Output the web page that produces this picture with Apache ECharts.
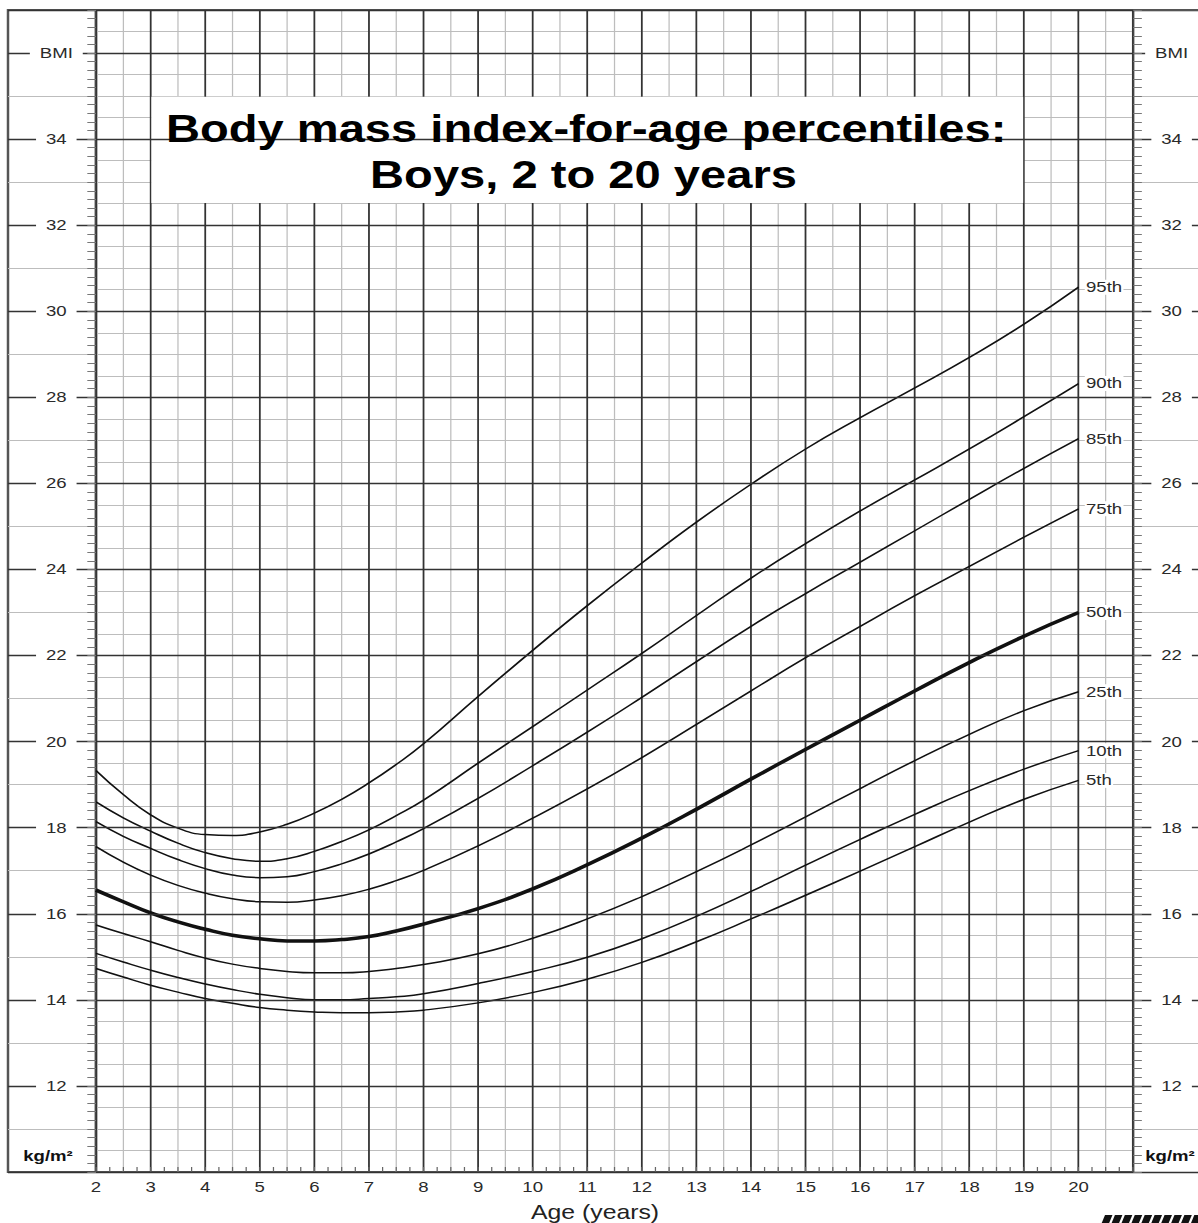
<!DOCTYPE html>
<html>
<head>
<meta charset="utf-8">
<script src="https://cdn.jsdelivr.net/npm/echarts@6/dist/echarts.min.js"></script>
<style>
  html, body { margin: 0; padding: 0; background: #fff; overflow: hidden; }
  #wrap { width: 1198px; height: 1223px; overflow: hidden; }
  #chart { width: 966px; height: 1223px; transform: scaleX(1.2402); transform-origin: 0 0; }
</style>
</head>
<body>
<div id="wrap"><div id="chart"></div></div>
<script>
// ---- data ----
const ages = [2, 2.5, 3, 3.5, 4, 4.5, 5, 5.5, 6, 6.5, 7, 7.5, 8, 9, 10, 11, 12, 13, 14, 15, 16, 17, 18, 19, 20];
const p95 = [19.33, 18.77, 18.30, 17.99, 17.84, 17.82, 17.90, 18.08, 18.34, 18.66, 19.04, 19.47, 19.95, 21.05, 22.12, 23.16, 24.15, 25.10, 25.98, 26.80, 27.53, 28.22, 28.93, 29.70, 30.56];
const p90 = [18.60, 18.23, 17.92, 17.64, 17.42, 17.28, 17.22, 17.28, 17.45, 17.68, 17.95, 18.28, 18.64, 19.50, 20.35, 21.20, 22.05, 22.93, 23.80, 24.60, 25.36, 26.08, 26.80, 27.55, 28.32];
const p85 = [18.14, 17.80, 17.52, 17.26, 17.05, 16.90, 16.84, 16.86, 16.98, 17.16, 17.39, 17.67, 17.98, 18.68, 19.44, 20.22, 21.03, 21.86, 22.68, 23.44, 24.17, 24.90, 25.63, 26.35, 27.04];
const p75 = [17.56, 17.20, 16.90, 16.66, 16.48, 16.35, 16.28, 16.27, 16.32, 16.42, 16.57, 16.77, 17.01, 17.58, 18.22, 18.90, 19.63, 20.40, 21.18, 21.95, 22.68, 23.39, 24.07, 24.75, 25.41];
const p50 = [16.55, 16.28, 16.02, 15.81, 15.64, 15.50, 15.42, 15.37, 15.37, 15.40, 15.47, 15.60, 15.76, 16.12, 16.58, 17.14, 17.76, 18.43, 19.13, 19.82, 20.50, 21.18, 21.84, 22.45, 23.00];
const p25 = [15.74, 15.54, 15.35, 15.15, 14.97, 14.83, 14.73, 14.66, 14.63, 14.63, 14.66, 14.73, 14.82, 15.07, 15.43, 15.88, 16.40, 16.98, 17.60, 18.25, 18.91, 19.56, 20.17, 20.72, 21.16];
const p10 = [15.08, 14.88, 14.69, 14.52, 14.37, 14.24, 14.13, 14.05, 14.00, 14.00, 14.03, 14.07, 14.14, 14.38, 14.66, 14.99, 15.42, 15.94, 16.52, 17.13, 17.73, 18.31, 18.86, 19.36, 19.79];
const p5  = [14.73, 14.53, 14.34, 14.18, 14.03, 13.92, 13.82, 13.76, 13.72, 13.70, 13.70, 13.72, 13.76, 13.93, 14.17, 14.48, 14.87, 15.35, 15.88, 16.43, 16.99, 17.56, 18.13, 18.66, 19.10];
const percentileNames = ['95th', '90th', '85th', '75th', '50th', '25th', '10th', '5th'];
const percentileValues = [p95, p90, p85, p75, p50, p25, p10, p5];
const xTickLabels = [2, 3, 4, 5, 6, 7, 8, 9, 10, 11, 12, 13, 14, 15, 16, 17, 18, 19, 20];
const yTickLabels = [12, 14, 16, 18, 20, 22, 24, 26, 28, 30, 32, 34, 36];
const yTopLabelValue = 36; // shown as "BMI"
const titleLines = ['Body mass index-for-age percentiles:', 'Boys, 2 to 20 years'];

// ---- layout / style ----
const FONT = '"Liberation Sans", Arial, Helvetica, sans-serif';
const DARK = '#333', LIGHT = '#bdbdbd', FRAME = '#555';
const X_MIN = 2, X_MAX = 21, Y_MIN = 10, Y_MAX = 37;
const BOX = { x0: 3.015, x1: 18.985, y0: 32.515, y1: 34.985 };

const chart = echarts.init(document.getElementById('chart'), null, { renderer: 'svg' });

const series = percentileNames.map((name, i) => {
  const s = {
    type: 'line', name: name,
    xAxisIndex: 1, yAxisIndex: 1,
    data: ages.map((a, k) => [a, percentileValues[i][k]]),
    smooth: 0.5, symbol: 'none', silent: true, z: 5,
    lineStyle: { color: '#111', width: name === '50th' ? 3.5 : 1.5 },
    endLabel: {
      show: true, formatter: p => p.seriesName, color: '#2a2a2a', fontSize: 15,
      fontFamily: FONT, distance: 5, backgroundColor: '#fff', padding: [0, 1]
    }
  };
  if (i === 0) {
    s.markArea = {
      silent: true, itemStyle: { color: '#fff' }, z: 4,
      data: [[{ coord: [BOX.x0, BOX.y0] }, { coord: [BOX.x1, BOX.y1] }]]
    };
  }
  return s;
});

const labelCommon = {
  customValues: yTickLabels, fontSize: 15, color: '#2a2a2a', fontFamily: FONT,
  align: 'center', backgroundColor: '#fff', padding: [1, 8],
  formatter: v => (v === yTopLabelValue ? 'BMI' : String(v))
};
const hidden = { axisLine: { show: false }, axisTick: { show: false }, axisLabel: { show: false }, splitLine: { show: false } };
const gridBase = { top: 10, bottom: 51, containLabel: false, outerBoundsMode: 'none' };

const option = {
  animation: false,
  textStyle: { fontFamily: FONT },
  grid: [
    Object.assign({ left: 77.4, right: 52.3, show: true, borderColor: FRAME, borderWidth: 2, backgroundColor: 'transparent' }, gridBase),
    Object.assign({ left: 6.45, width: 70.95, show: true, borderColor: FRAME, borderWidth: 2, backgroundColor: 'transparent' }, gridBase),
    Object.assign({ left: 913.7, right: -20, show: false }, gridBase)
  ],
  xAxis: [
    Object.assign({ type: 'value', gridIndex: 0, position: 'bottom', min: X_MIN, max: X_MAX, interval: 0.5 }, hidden,
      { splitLine: { show: true, lineStyle: { color: LIGHT, width: 1 } } }),
    Object.assign({ type: 'value', gridIndex: 0, position: 'bottom', min: X_MIN, max: X_MAX, interval: 1 }, hidden,
      { splitLine: { show: true, lineStyle: { color: DARK, width: 1.4 } },
        axisLabel: { show: true, customValues: xTickLabels, fontSize: 15, color: '#2a2a2a', fontFamily: FONT, margin: 8 } }),
    Object.assign({ type: 'value', gridIndex: 0, position: 'bottom', min: X_MIN, max: X_MAX, interval: 0.25 }, hidden,
      { axisTick: { show: true, inside: true, length: 5, lineStyle: { color: '#666', width: 1 } } }),
    Object.assign({ type: 'value', gridIndex: 1, position: 'bottom', min: 0, max: 1 }, hidden),
    Object.assign({ type: 'value', gridIndex: 2, min: 0, max: 1, position: 'top' }, hidden,
      { axisLine: { show: true, onZero: false, lineStyle: { color: FRAME, width: 2 } } })
  ],
  yAxis: [
    Object.assign({ type: 'value', gridIndex: 0, position: 'left', min: Y_MIN, max: Y_MAX, interval: 0.5 }, hidden,
      { splitLine: { show: true, lineStyle: { color: LIGHT, width: 1 } } }),
    Object.assign({ type: 'value', gridIndex: 0, position: 'left', min: Y_MIN, max: Y_MAX, interval: 2, z: 10 }, hidden,
      { splitLine: { show: true, lineStyle: { color: DARK, width: 1.4 } },
        axisLabel: Object.assign({ show: true, margin: 32 }, labelCommon) }),
    Object.assign({ type: 'value', gridIndex: 0, position: 'right', min: Y_MIN, max: Y_MAX, interval: 2, z: 10 }, hidden,
      { axisLabel: Object.assign({ show: true, margin: 31 }, labelCommon) }),
    Object.assign({ type: 'value', gridIndex: 0, position: 'left', min: Y_MIN, max: Y_MAX, interval: 0.2 }, hidden,
      { axisTick: { show: true, inside: false, length: 7, lineStyle: { color: '#777', width: 1 } } }),
    Object.assign({ type: 'value', gridIndex: 0, position: 'right', min: Y_MIN, max: Y_MAX, interval: 0.2 }, hidden,
      { axisTick: { show: true, inside: false, length: 7, lineStyle: { color: '#777', width: 1 } } }),
    Object.assign({ type: 'value', gridIndex: 1, position: 'left', min: Y_MIN, max: Y_MAX, interval: 1 }, hidden,
      { splitLine: { show: true, lineStyle: { color: LIGHT, width: 1 } } }),
    Object.assign({ type: 'value', gridIndex: 1, position: 'left', min: Y_MIN, max: Y_MAX, interval: 2 }, hidden,
      { splitLine: { show: true, lineStyle: { color: DARK, width: 1.4 } } }),
    Object.assign({ type: 'value', gridIndex: 2, position: 'left', min: Y_MIN, max: Y_MAX, interval: 1 }, hidden,
      { splitLine: { show: true, lineStyle: { color: LIGHT, width: 1 } } }),
    Object.assign({ type: 'value', gridIndex: 2, position: 'left', min: Y_MIN, max: Y_MAX, interval: 2 }, hidden,
      { splitLine: { show: true, lineStyle: { color: DARK, width: 1.4 } } })
  ],
  series: series,
  graphic: [
    { type: 'text', x: 472.6, y: 129, z: 100, silent: true,
      style: { text: titleLines[0], font: 'bold 38px ' + FONT, fill: '#000', textAlign: 'center', textVerticalAlign: 'middle' } },
    { type: 'text', x: 470.5, y: 175, z: 100, silent: true,
      style: { text: titleLines[1], font: 'bold 38px ' + FONT, fill: '#000', textAlign: 'center', textVerticalAlign: 'middle' } },
    { type: 'text', x: 38.7, y: 1156, z: 100, silent: true,
      style: { text: 'kg/m²', font: 'bold 15px ' + FONT, fill: '#111', textAlign: 'center', textVerticalAlign: 'middle' } },
    { type: 'text', x: 923.4, y: 1156, z: 100, silent: true,
      style: { text: 'kg/m²', font: 'bold 15px ' + FONT, fill: '#111', textAlign: 'left', textVerticalAlign: 'middle' } },
    { type: 'text', x: 479.8, y: 1212, z: 100, silent: true,
      style: { text: 'Age (years)', font: '20px ' + FONT, fill: '#222', textAlign: 'center', textVerticalAlign: 'middle' } },
    { type: 'group', x: 888, y: 1215, silent: true, children:
      [0, 1, 2, 3, 4, 5, 6, 7, 8, 9].map(k => ({
        type: 'polygon', shape: { points: [[k * 8, 9], [k * 8 + 3, 0], [k * 8 + 9, 0], [k * 8 + 6, 9]] },
        style: { fill: '#111' }
      }))
    }
  ]
};
chart.setOption(option);
</script>
</body>
</html>
